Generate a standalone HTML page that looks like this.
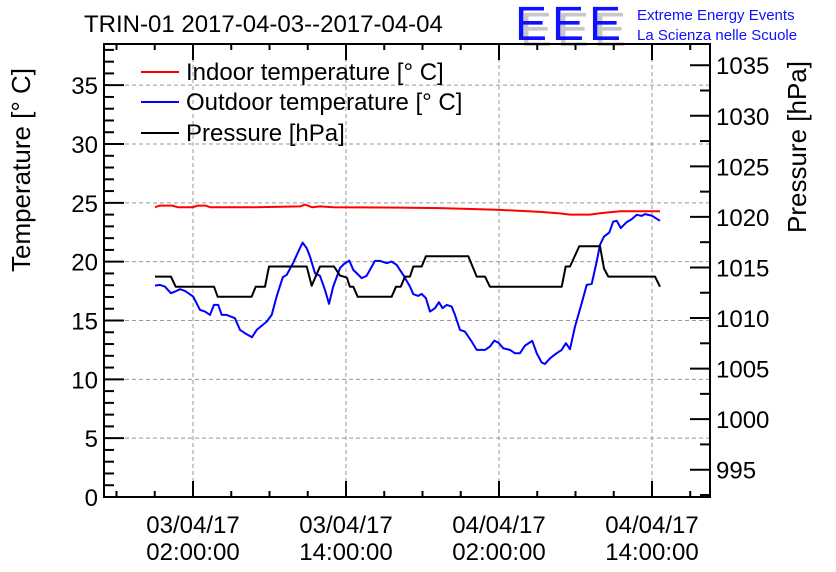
<!DOCTYPE html>
<html><head><meta charset="utf-8"><style>
body{margin:0;background:#fff;}
svg{display:block;font-family:"Liberation Sans",sans-serif;}
</style></head><body>
<svg id="chart" width="836" height="572" viewBox="0 0 836 572">
<rect x="0" y="0" width="836" height="572" fill="#fff"/>
<text x="84" y="32" font-size="24" fill="#000">TRIN-01 2017-04-03--2017-04-04</text>
<g>
<text x="520" y="46" font-size="48" fill="#c8c8c8" letter-spacing="5">EEE</text>
<text x="515" y="40" font-size="48" fill="#1010ff" letter-spacing="5">EEE</text>
<text x="637" y="20" font-size="15" fill="#1010ff">Extreme Energy Events</text>
<text x="637" y="40" font-size="15" fill="#1010ff">La Scienza nelle Scuole</text>
</g>
<g id="grid"></g>
<g id="series"></g>
<g id="axes"></g>
<text transform="translate(30,170) rotate(-90)" text-anchor="middle" font-size="26">Temperature [° C]</text>
<text transform="translate(806,147) rotate(-90)" text-anchor="middle" font-size="26">Pressure [hPa]</text>
<g>
<g><line x1="141" y1="72" x2="179" y2="72" stroke="#ff0000" stroke-width="2"/><text x="186" y="80" font-size="24">Indoor temperature [° C]</text></g>
<g><line x1="141" y1="102" x2="179" y2="102" stroke="#0000ff" stroke-width="2"/><text x="186" y="110" font-size="24">Outdoor temperature [° C]</text></g>
<g><line x1="141" y1="133" x2="179" y2="133" stroke="#000" stroke-width="2"/><text x="186" y="141" font-size="24">Pressure [hPa]</text></g>
</g>
</svg>
<script>
// hours since 03/04/17 00:00
const indoorTime = [-0.98,-0.59,0.35,0.82,2.0,2.4,3.0,3.33,6.86,10.4,10.78,11.33,11.96,12.98,18.24,21.37,24.51,26.08,29.22,30.78,31.57,33.14,33.92,34.71,35.49,38.63];
const indoorTemp = [24.63,24.77,24.77,24.63,24.63,24.77,24.77,24.63,24.63,24.70,24.85,24.63,24.70,24.63,24.60,24.55,24.45,24.40,24.23,24.1,24.0,24.0,24.12,24.2,24.28,24.28];
const outdoorTime = [-0.98,-0.59,-0.20,0.27,0.59,0.98,1.37,2.02,2.55,2.94,3.33,3.65,3.98,4.25,4.64,5.29,5.69,6.08,6.63,7.00,7.78,8.17,8.56,9.04,9.35,9.87,10.26,10.60,10.92,11.18,11.57,11.96,12.35,12.67,13.00,13.53,13.84,14.26,14.57,15.23,15.62,16.27,16.67,17.19,17.58,17.98,18.49,19.02,19.28,19.67,19.94,20.27,20.59,20.98,21.29,21.58,21.90,22.29,22.55,22.94,23.33,23.86,24.25,24.90,25.29,25.63,25.95,26.34,26.86,27.25,27.65,28.04,28.61,28.96,29.35,29.61,30.00,30.53,30.92,31.25,31.57,31.96,32.49,32.88,33.27,33.66,33.92,34.24,34.65,34.96,35.23,35.55,36.02,36.41,36.80,37.19,37.45,37.98,38.63];
const outdoorTemp = [17.97,18.03,17.88,17.32,17.46,17.66,17.52,17.03,15.90,15.76,15.48,16.33,16.33,15.48,15.48,15.20,14.20,13.92,13.58,14.20,14.91,15.48,17.03,18.68,18.88,19.92,20.86,21.62,21.15,20.43,19.02,18.79,17.60,16.41,17.88,19.45,19.81,20.09,19.30,18.60,18.79,20.07,20.07,19.87,20.01,19.73,18.88,17.88,17.24,17.09,17.26,16.90,15.76,16.05,16.56,16.05,16.33,16.18,15.48,14.20,14.06,13.21,12.50,12.50,12.78,13.29,13.12,12.64,12.50,12.22,12.22,12.87,13.27,12.22,11.42,11.31,11.79,12.22,12.50,13.07,12.56,14.48,16.47,18.03,18.11,20.01,21.43,22.13,22.47,23.41,23.47,22.85,23.36,23.61,23.98,23.89,24.04,23.92,23.47];
const pressureTime = [-0.98,0.27,0.64,3.65,3.94,6.60,6.92,7.65,7.96,10.92,11.31,11.96,13.06,13.53,14.06,14.31,14.57,14.92,17.58,17.92,18.29,18.63,19.02,19.28,19.94,20.27,23.59,24.25,24.90,25.29,30.92,31.23,31.57,32.30,33.92,34.24,34.57,38.24,38.63];
const pressureVal = [1014.1,1014.1,1013.1,1013.1,1012.1,1012.1,1013.1,1013.1,1015.1,1015.1,1013.2,1015.1,1015.1,1014.2,1014.0,1013.1,1013.1,1012.1,1012.1,1013.1,1013.1,1014.1,1014.1,1015.1,1015.1,1016.1,1016.1,1014.1,1014.1,1013.1,1013.1,1015.1,1015.1,1017.1,1017.1,1014.9,1014.1,1014.1,1013.1];
const tempTicks = [0,5,10,15,20,25,30,35];
const pressTicks = [995,1000,1005,1010,1015,1020,1025,1030,1035];
const timeTicks = [2,14,26,38];
const timeLabels = [["03/04/17","02:00:00"],["03/04/17","14:00:00"],["04/04/17","02:00:00"],["04/04/17","14:00:00"]];

const L=104,R=710,T=44,B=497;
const hMin=-4.98,hMax=42.55,tMin=0,tMax=38.5,pMin=992.3,pMax=1037.1;
const xS=h=>L+(h-hMin)/(hMax-hMin)*(R-L);
const yT=v=>B-(v-tMin)/(tMax-tMin)*(B-T);
const yP=v=>B-(v-pMin)/(pMax-pMin)*(B-T);
const NS="http://www.w3.org/2000/svg";
function mk(tag,attrs,parent){const e=document.createElementNS(NS,tag);for(const k in attrs)e.setAttribute(k,attrs[k]);parent.appendChild(e);return e;}
const grid=document.getElementById('grid'),axes=document.getElementById('axes'),series=document.getElementById('series');

// grid
timeTicks.forEach(h=>{const l=mk('line',{x1:xS(h),x2:xS(h),y1:T,y2:B,stroke:'#999','stroke-width':1,'stroke-dasharray':'4,3'},grid);

});
tempTicks.filter(v=>v>0).forEach(v=>{const l=mk('line',{x1:L,x2:R,y1:yT(v),y2:yT(v),stroke:'#999','stroke-width':1,'stroke-dasharray':'4,3'},grid);

});

// series
function path(xs,ys,yf,color,name){let d='';xs.forEach((h,i)=>{d+=(i?'L':'M')+xS(h).toFixed(1)+','+yf(ys[i]).toFixed(1);});
const p=mk('path',{d:d,fill:'none',stroke:color,'stroke-width':2,'stroke-linejoin':'round'},series);

}
path(indoorTime,indoorTemp,yT,'#ff0000','indoor-temperature-line');
path(outdoorTime,outdoorTemp,yT,'#0000ff','outdoor-temperature-line');
path(pressureTime,pressureVal,yP,'#000000','pressure-line');

// frame
const fr=mk('rect',{x:L,y:T,width:R-L,height:B-T,fill:'none',stroke:'#000','stroke-width':2},axes);


// left axis ticks
for(let v=0;v<=38;v++){const len=v%5===0?20:10;mk('line',{x1:L,x2:L+len,y1:yT(v),y2:yT(v),stroke:'#000','stroke-width':2},axes);}
tempTicks.forEach(v=>{const t=mk('text',{x:L-6,y:yT(v)+9,'text-anchor':'end','font-size':24},axes);t.textContent=v;

});
// right axis ticks
for(let v=992.5;v<=1037.1;v+=2.5){const len=(Math.abs(v%5)<0.01)?20:10;mk('line',{x1:R-len,x2:R,y1:yP(v),y2:yP(v),stroke:'#000','stroke-width':2},axes);}
pressTicks.forEach(v=>{const t=mk('text',{x:R+6,y:yP(v)+9,'font-size':24},axes);t.textContent=v;

});
// x ticks
for(let h=-4;h<=hMax;h+=3){const major=((h-2)%12===0);const len=major?16:6;
mk('line',{x1:xS(h),x2:xS(h),y1:B-len,y2:B,stroke:'#000','stroke-width':2},axes);
mk('line',{x1:xS(h),x2:xS(h),y1:T,y2:T+len,stroke:'#000','stroke-width':2},axes);}
timeTicks.forEach((h,i)=>{const t=mk('text',{x:xS(h),y:533,'text-anchor':'middle','font-size':24},axes);
t.textContent=timeLabels[i][0];


const t2=mk('text',{x:xS(h),y:560,'text-anchor':'middle','font-size':24},axes);
t2.textContent=timeLabels[i][1];

});
</script>
</body></html>
